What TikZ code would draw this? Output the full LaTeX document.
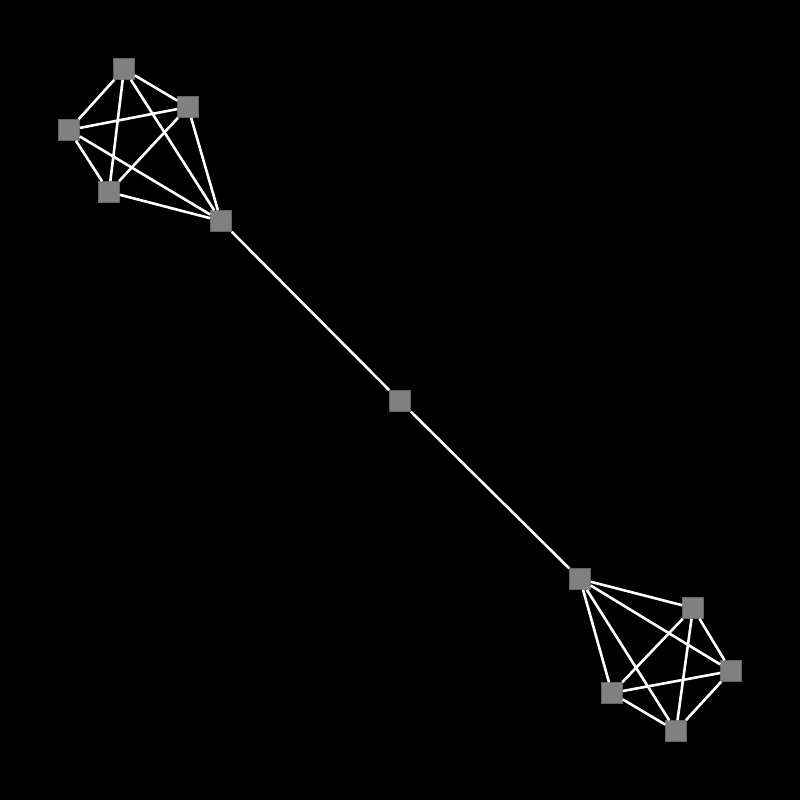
\documentclass[tikz,border=0pt]{standalone}
\begin{document}
\begin{tikzpicture}[x=1pt,y=-1pt,
  vtx/.style={rectangle,minimum size=21pt,inner sep=0pt,fill={rgb,255:red,128;green,128;blue,128},draw={rgb,255:red,100;green,100;blue,100},line width=0.6pt},
  edge/.style={draw=white,line width=2.6pt}]
\fill[black] (0,0) rectangle (800,800);
\useasboundingbox (0,0) rectangle (800,800);
\node[vtx] (A) at (124,69) {};
\node[vtx] (B) at (188,107) {};
\node[vtx] (C) at (69,130) {};
\node[vtx] (D) at (109,192) {};
\node[vtx] (E) at (221,221) {};
\node[vtx] (M) at (400,401) {};
\node[vtx] (F) at (580,579) {};
\node[vtx] (G) at (693,608) {};
\node[vtx] (H) at (731,671) {};
\node[vtx] (I) at (612,693) {};
\node[vtx] (J) at (676,731) {};
\foreach \a/\b in {A/B,A/C,A/D,A/E,B/C,B/D,B/E,C/D,C/E,D/E,E/M,M/F,F/G,F/H,F/I,F/J,G/H,G/I,G/J,H/I,H/J,I/J}
  \draw[edge] (\a) -- (\b);
\end{tikzpicture}
\end{document}
